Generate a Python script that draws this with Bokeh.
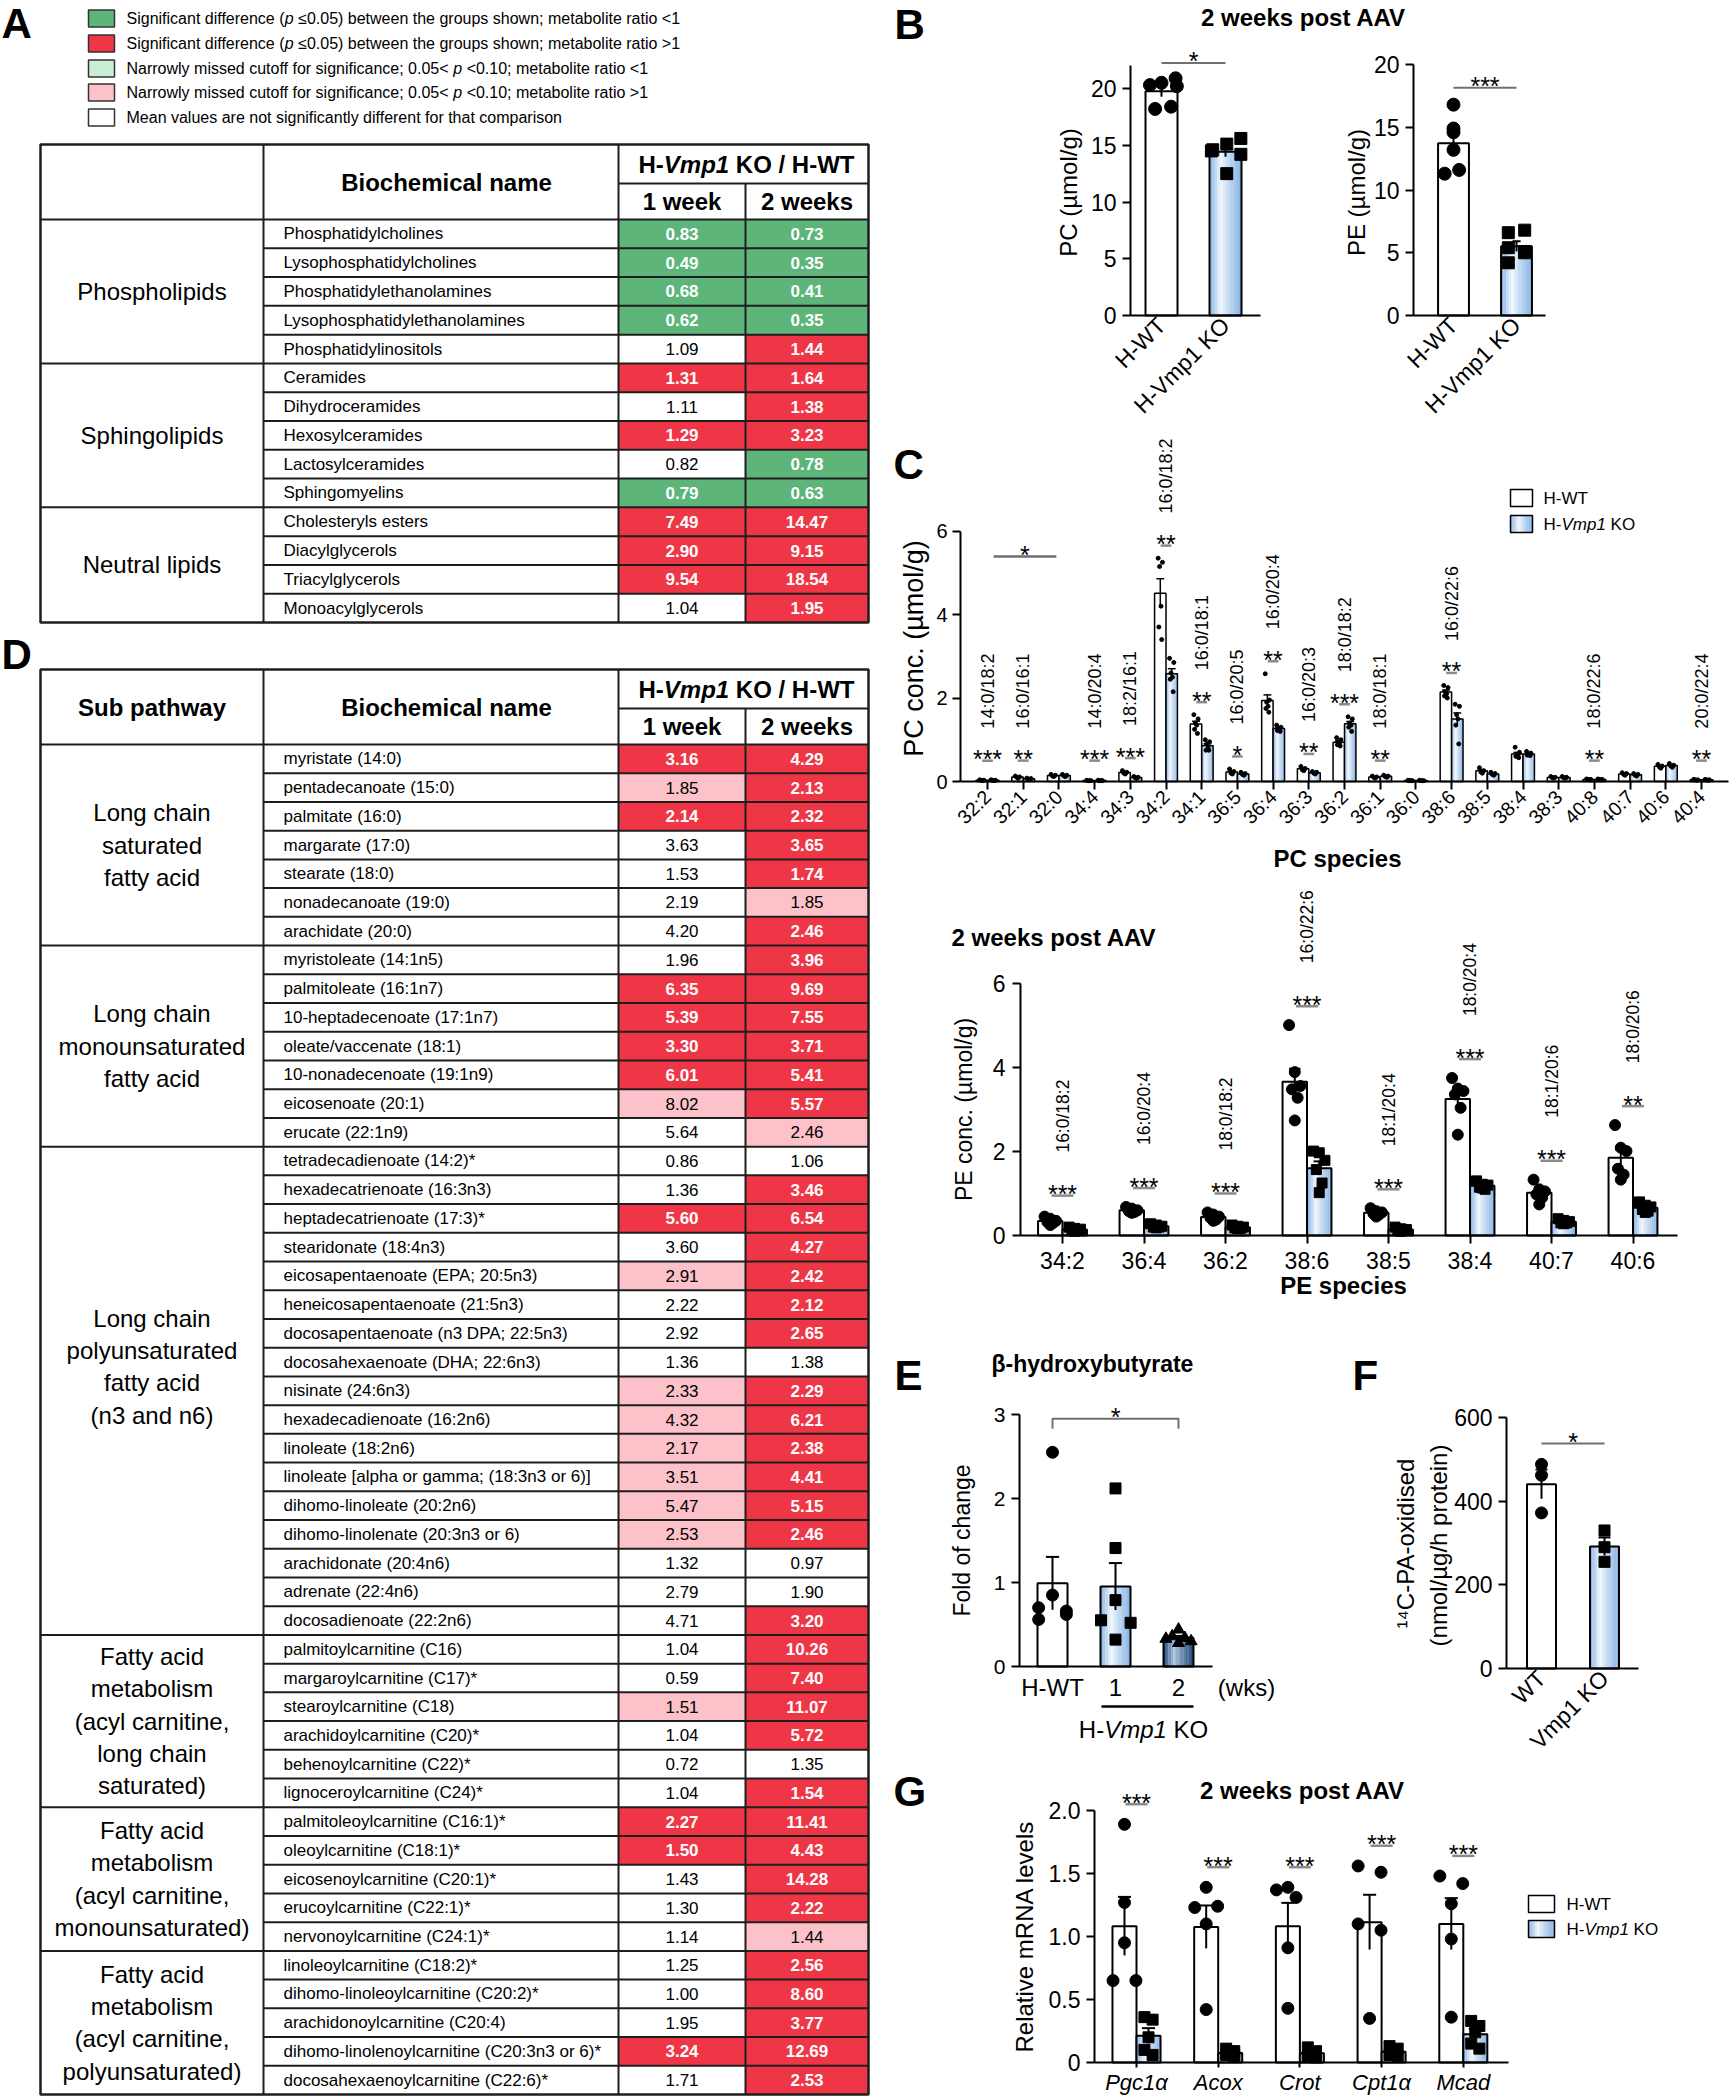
import math
from bokeh.plotting import figure
from bokeh.models import Range1d, FixedTicker, LinearAxis
from bokeh.layouts import row, column
from bokeh.core.properties import value
from bokeh.embed import file_html
from bokeh.resources import INLINE

FONT = "Liberation Sans"

# ======================= DATA =======================
legend_codes = ["G", "R", "g", "r", ""]
legend_texts = [
    ["Significant difference (", "p", " \u22640.05) between the groups shown; metabolite ratio <1"],
    ["Significant difference (", "p", " \u22640.05) between the groups shown; metabolite ratio >1"],
    ["Narrowly missed cutoff for significance; 0.05< ", "p", " <0.10; metabolite ratio <1"],
    ["Narrowly missed cutoff for significance; 0.05< ", "p", " <0.10; metabolite ratio >1"],
    ["Mean values are not significantly different for that comparison"],
]

# ---- Table A ----
a_groups = ["Phospholipids", "Sphingolipids", "Neutral lipids"]
a_sizes = [5, 5, 4]
a_names = ["Phosphatidylcholines", "Lysophosphatidylcholines", "Phosphatidylethanolamines",
           "Lysophosphatidylethanolamines", "Phosphatidylinositols", "Ceramides", "Dihydroceramides",
           "Hexosylceramides", "Lactosylceramides", "Sphingomyelins", "Cholesteryls esters",
           "Diacylglycerols", "Triacylglycerols", "Monoacylglycerols"]
a_wk1 = [0.83, 0.49, 0.68, 0.62, 1.09, 1.31, 1.11, 1.29, 0.82, 0.79, 7.49, 2.90, 9.54, 1.04]
a_wk2 = [0.73, 0.35, 0.41, 0.35, 1.44, 1.64, 1.38, 3.23, 0.78, 0.63, 14.47, 9.15, 18.54, 1.95]
a_sig1 = ["G", "G", "G", "G", "", "R", "", "R", "", "G", "R", "R", "R", ""]
a_sig2 = ["G", "G", "G", "G", "R", "R", "R", "R", "G", "G", "R", "R", "R", "R"]

# ---- Table D ----
d_groups = ["Long chain\nsaturated\nfatty acid",
            "Long chain\nmonounsaturated\nfatty acid",
            "Long chain\npolyunsaturated\nfatty acid\n(n3 and n6)",
            "Fatty acid\nmetabolism\n(acyl carnitine,\nlong chain\nsaturated)",
            "Fatty acid\nmetabolism\n(acyl carnitine,\nmonounsaturated)",
            "Fatty acid\nmetabolism\n(acyl carnitine,\npolyunsaturated)"]
d_sizes = [7, 7, 17, 6, 5, 5]
d_names = [
    "myristate (14:0)", "pentadecanoate (15:0)", "palmitate (16:0)", "margarate (17:0)",
    "stearate (18:0)", "nonadecanoate (19:0)", "arachidate (20:0)",
    "myristoleate (14:1n5)", "palmitoleate (16:1n7)", "10-heptadecenoate (17:1n7)",
    "oleate/vaccenate (18:1)", "10-nonadecenoate (19:1n9)", "eicosenoate (20:1)", "erucate (22:1n9)",
    "tetradecadienoate (14:2)*", "hexadecatrienoate (16:3n3)", "heptadecatrienoate (17:3)*",
    "stearidonate (18:4n3)", "eicosapentaenoate (EPA; 20:5n3)", "heneicosapentaenoate (21:5n3)",
    "docosapentaenoate (n3 DPA; 22:5n3)", "docosahexaenoate (DHA; 22:6n3)", "nisinate (24:6n3)",
    "hexadecadienoate (16:2n6)", "linoleate (18:2n6)", "linoleate [alpha or gamma; (18:3n3 or 6)]",
    "dihomo-linoleate (20:2n6)", "dihomo-linolenate (20:3n3 or 6)", "arachidonate (20:4n6)",
    "adrenate (22:4n6)", "docosadienoate (22:2n6)",
    "palmitoylcarnitine (C16)", "margaroylcarnitine (C17)*", "stearoylcarnitine (C18)",
    "arachidoylcarnitine (C20)*", "behenoylcarnitine (C22)*", "lignoceroylcarnitine (C24)*",
    "palmitoleoylcarnitine (C16:1)*", "oleoylcarnitine (C18:1)*", "eicosenoylcarnitine (C20:1)*",
    "erucoylcarnitine (C22:1)*", "nervonoylcarnitine (C24:1)*",
    "linoleoylcarnitine (C18:2)*", "dihomo-linoleoylcarnitine (C20:2)*", "arachidonoylcarnitine (C20:4)",
    "dihomo-linolenoylcarnitine (C20:3n3 or 6)*", "docosahexaenoylcarnitine (C22:6)*"]
d_wk1 = [3.16, 1.85, 2.14, 3.63, 1.53, 2.19, 4.20,
         1.96, 6.35, 5.39, 3.30, 6.01, 8.02, 5.64,
         0.86, 1.36, 5.60, 3.60, 2.91, 2.22, 2.92, 1.36, 2.33, 4.32, 2.17, 3.51, 5.47, 2.53, 1.32, 2.79, 4.71,
         1.04, 0.59, 1.51, 1.04, 0.72, 1.04,
         2.27, 1.50, 1.43, 1.30, 1.14,
         1.25, 1.00, 1.95, 3.24, 1.71]
d_wk2 = [4.29, 2.13, 2.32, 3.65, 1.74, 1.85, 2.46,
         3.96, 9.69, 7.55, 3.71, 5.41, 5.57, 2.46,
         1.06, 3.46, 6.54, 4.27, 2.42, 2.12, 2.65, 1.38, 2.29, 6.21, 2.38, 4.41, 5.15, 2.46, 0.97, 1.90, 3.20,
         10.26, 7.40, 11.07, 5.72, 1.35, 1.54,
         11.41, 4.43, 14.28, 2.22, 1.44,
         2.56, 8.60, 3.77, 12.69, 2.53]
d_sig1 = ["R", "r", "R", "", "", "", "",
          "", "R", "R", "R", "R", "r", "",
          "", "", "R", "", "r", "", "", "", "r", "r", "r", "r", "r", "r", "", "", "",
          "", "", "r", "", "", "",
          "R", "R", "", "", "",
          "", "", "", "R", ""]
d_sig2 = ["R", "R", "R", "R", "R", "r", "R",
          "R", "R", "R", "R", "R", "R", "r",
          "", "R", "R", "R", "R", "R", "R", "", "R", "R", "R", "R", "R", "R", "", "", "R",
          "R", "R", "R", "R", "", "R",
          "R", "R", "R", "R", "r",
          "R", "R", "R", "R", "R"]

# ---- Panel B (2 weeks post AAV) ----
b_groups = ["H-WT", "H-Vmp1 KO"]
b_pc_wt = [20.3, 20.5, 20.9, 20.2, 18.2, 18.4]
b_pc_ko = [14.5, 15.1, 15.6, 14.2, 12.5, 14.6]
b_pe_wt = [16.8, 14.9, 14.6, 13.2, 11.3, 11.6]
b_pe_ko = [6.6, 6.8, 5.4, 4.2, 5.1, 5.0]

# ---- Panel C (PC species) ----
pc_species = ["32:2", "32:1", "32:0", "34:4", "34:3", "34:2", "34:1", "36:5", "36:4", "36:3", "36:2",
              "36:1", "36:0", "38:6", "38:5", "38:4", "38:3", "40:8", "40:7", "40:6", "40:4"]
pc_wt = [[0.04, 0.03, 0.03, 0.02], [0.13, 0.11, 0.10, 0.08], [0.17, 0.15, 0.13, 0.12],
         [0.03, 0.02, 0.02, 0.02], [0.26, 0.22, 0.20, 0.18], [5.35, 5.25, 5.15, 4.2, 3.7, 3.4],
         [1.6, 1.5, 1.4, 1.35, 1.25, 1.15], [0.30, 0.24, 0.20, 0.18], [2.58, 1.95, 1.9, 1.8, 1.75, 1.66],
         [0.36, 0.31, 0.28, 0.26], [1.05, 1.0, 0.95, 0.92, 0.88, 0.85], [0.13, 0.11, 0.10, 0.08],
         [0.03, 0.02, 0.02, 0.02], [2.3, 2.25, 2.15, 2.1, 2.05, 2.0], [0.33, 0.26, 0.23, 0.20],
         [0.82, 0.70, 0.65, 0.62, 0.60, 0.57], [0.12, 0.10, 0.09, 0.08], [0.06, 0.05, 0.05, 0.04],
         [0.21, 0.19, 0.17, 0.15], [0.41, 0.37, 0.35, 0.32], [0.05, 0.04, 0.04, 0.03]]
pc_ko = [[0.04, 0.03, 0.03, 0.02], [0.08, 0.07, 0.06, 0.05], [0.17, 0.15, 0.13, 0.12],
         [0.03, 0.02, 0.02, 0.02], [0.12, 0.10, 0.09, 0.08], [2.95, 2.85, 2.6, 2.5, 2.45, 2.15],
         [1.0, 0.95, 0.9, 0.8, 0.75, 0.75], [0.22, 0.19, 0.17, 0.15], [1.35, 1.3, 1.28, 1.25, 1.22, 1.2],
         [0.24, 0.22, 0.20, 0.18], [1.55, 1.5, 1.4, 1.35, 1.3, 1.2], [0.15, 0.13, 0.12, 0.10],
         [0.03, 0.02, 0.02, 0.02], [1.85, 1.8, 1.6, 1.5, 1.35, 0.9], [0.22, 0.19, 0.17, 0.15],
         [0.72, 0.68, 0.66, 0.65, 0.63, 0.62], [0.12, 0.10, 0.09, 0.08], [0.06, 0.05, 0.05, 0.04],
         [0.19, 0.17, 0.15, 0.13], [0.43, 0.39, 0.37, 0.34], [0.05, 0.04, 0.04, 0.03]]
pc_stars = ["***", "**", "", "***", "***", "**", "**", "*", "**", "**", "***", "**", "", "**", "", "", "",
            "**", "", "", "**"]
pc_lipid = ["14:0/18:2", "16:0/16:1", "", "14:0/20:4", "18:2/16:1", "16:0/18:2", "16:0/18:1", "16:0/20:5",
            "16:0/20:4", "16:0/20:3", "18:0/18:2", "18:0/18:1", "", "16:0/22:6", "", "", "", "18:0/22:6",
            "", "", "20:0/22:4"]

# ---- PE species ----
pe_species = ["34:2", "36:4", "36:2", "38:6", "38:5", "38:4", "40:7", "40:6"]
pe_wt = [[0.45, 0.40, 0.35, 0.32, 0.30, 0.25], [0.68, 0.64, 0.60, 0.58, 0.56, 0.54],
         [0.55, 0.50, 0.45, 0.42, 0.38, 0.35], [5.01, 3.89, 3.56, 3.48, 3.28, 2.74],
         [0.65, 0.58, 0.55, 0.52, 0.50, 0.45], [3.75, 3.5, 3.44, 3.36, 3.04, 2.4],
         [1.33, 1.10, 1.05, 0.98, 0.90, 0.74], [2.63, 2.09, 2.01, 1.59, 1.45, 1.33]]
pe_ko = [[0.20, 0.17, 0.15, 0.13, 0.12, 0.10], [0.28, 0.25, 0.22, 0.20, 0.20, 0.18],
         [0.25, 0.22, 0.20, 0.18, 0.17, 0.16], [2.01, 1.97, 1.79, 1.57, 1.25, 1.02],
         [0.20, 0.16, 0.14, 0.13, 0.12, 0.10], [1.30, 1.22, 1.20, 1.15, 1.10, 1.13],
         [0.40, 0.36, 0.33, 0.30, 0.30, 0.28], [0.80, 0.72, 0.68, 0.62, 0.58, 0.55]]
pe_stars = ["***", "***", "***", "***", "***", "***", "***", "**"]
pe_lipid = ["16:0/18:2", "16:0/20:4", "18:0/18:2", "16:0/22:6", "18:1/20:4", "18:0/20:4", "18:1/20:6",
            "18:0/20:6"]

# ---- Panel E (beta-hydroxybutyrate, fold of change) ----
e_ticks = ["H-WT", "1", "2"]
e_wt = [2.55, 0.85, 0.70, 0.66, 0.62, 0.56]
e_ko1 = [2.12, 1.41, 0.79, 0.55, 0.52, 0.32]
e_ko2 = [0.44, 0.36, 0.34, 0.33, 0.30, 0.28]

# ---- Panel F (14C-PA oxidised) ----
f_groups = ["WT", "Vmp1 KO"]
f_wt = [488, 462, 372]
f_ko = [330, 290, 255]

# ---- Panel G (relative mRNA) ----
g_genes = ["Pgc1\u03b1", "Acox", "Crot", "Cpt1\u03b1", "Mcad"]
g_wt = [[1.89, 1.27, 0.95, 0.65, 0.65], [1.39, 1.23, 1.24, 1.10, 0.42], [1.37, 1.39, 1.31, 0.91, 0.43],
        [1.56, 1.51, 1.10, 1.05, 0.35], [1.48, 1.42, 1.26, 0.98, 0.36]]
g_ko = [[0.36, 0.34, 0.20, 0.10, 0.06], [0.11, 0.09, 0.07, 0.06, 0.05], [0.12, 0.09, 0.07, 0.05, 0.04],
        [0.13, 0.11, 0.08, 0.06, 0.05], [0.33, 0.29, 0.24, 0.15, 0.11]]

# ======================= HELPERS =======================
_AW = {}
for ch, w in zip(" !\"#$%&'()*+,-./", [278, 278, 355, 556, 556, 889, 667, 191, 333, 333, 389, 584, 278, 333, 278, 278]):
    _AW[ch] = w
for ch in "0123456789":
    _AW[ch] = 556
for ch, w in zip(":;<=>?@", [278, 278, 584, 584, 584, 556, 1015]):
    _AW[ch] = w
for ch, w in zip("ABCDEFGHIJKLMNOPQRSTUVWXYZ", [667, 667, 722, 722, 667, 611, 778, 722, 278, 500, 667, 556, 833,
                                                722, 778, 667, 778, 722, 667, 611, 722, 667, 944, 667, 667, 611]):
    _AW[ch] = w
for ch, w in zip("[\\]^_", [278, 278, 278, 469, 556]):
    _AW[ch] = w
for ch, w in zip("abcdefghijklmnopqrstuvwxyz", [556, 556, 500, 556, 556, 278, 556, 556, 222, 222, 500, 222, 833,
                                                556, 556, 556, 556, 333, 500, 278, 556, 500, 722, 500, 500, 500]):
    _AW[ch] = w
_AW.update({"\u2264": 549, "\u00b5": 556})
_ABW = dict(_AW)
for ch, w in zip("ABCDEFGHIJKLMNOPQRSTUVWXYZ", [722, 722, 722, 722, 667, 611, 778, 722, 278, 556, 722, 611, 833,
                                                722, 778, 667, 778, 722, 667, 611, 722, 667, 944, 667, 667, 611]):
    _ABW[ch] = w
for ch, w in zip("abcdefghijklmnopqrstuvwxyz", [556, 611, 556, 611, 556, 333, 611, 611, 278, 278, 556, 278, 889,
                                                611, 611, 611, 611, 389, 556, 333, 611, 556, 778, 556, 556, 500]):
    _ABW[ch] = w
_ABW.update({":": 333, ";": 333})


def tw(s, size, bold=False):
    t = _ABW if bold else _AW
    return sum(t.get(c, 556) for c in s) * size / 1000.0


def RN(rn):
    return dict(x_range_name=rn, y_range_name=rn) if rn else {}


def T(p, xs, ys, texts, size, align="left", baseline="middle", style="normal", color="black", angle=0.0, rn=None):
    p.text(x=list(xs), y=list(ys), text=list(texts), text_font=value(FONT), text_font_size=f"{size}px",
           text_align=align, text_baseline=baseline, text_font_style=style, text_color=color, angle=angle,
           **RN(rn))


def pieces(p, x_left, y, parts, size, bold=False, ux=1.0, color="black"):
    x = x_left
    for s, it in parts:
        st = " ".join((["bold"] if bold else []) + (["italic"] if it else [])) or "normal"
        lead = len(s) - len(s.lstrip(" "))
        xd = x + tw(" " * lead, size, bold) / ux
        txt = s.strip(" ")
        if txt:
            T(p, [xd], [y], [txt], size, style=st, color=color)
        x += tw(s, size, bold) / ux


class M:
    """pixel <-> data mapping of one chart (page pixel coordinates)."""
    def __init__(self, X0, UX, Y0, UY):
        self.X0, self.UX, self.Y0, self.UY = X0, UX, Y0, UY

    def x(self, X):
        return (X - self.X0) / self.UX

    def y(self, Y):
        return (self.Y0 - Y) / self.UY

    def dx(self, px):
        return px / self.UX

    def dy(self, px):
        return px / self.UY


def _base(w, h, xr, yr, axes):
    kw = dict(width=w, height=h, x_range=Range1d(*xr), y_range=Range1d(*yr), output_backend="svg",
              toolbar_location=None, tools="", title=None, min_border=0, min_border_left=0,
              min_border_right=0, min_border_top=0, min_border_bottom=0)
    if not axes:
        kw.update(x_axis_type=None, y_axis_type=None)
    p = figure(**kw)
    p.outline_line_color = None
    p.background_fill_color = "white"
    p.border_fill_color = "white"
    if "frame_align" in p.properties():
        p.frame_align = False
    if axes:
        p.xgrid.visible = False
        p.ygrid.visible = False
    return p


def chart(XL, XR, YT, YB, m):
    return _base(XR - XL, YB - YT, (m.x(XL), m.x(XR)), (m.y(YB), m.y(YT)), True)


def style_ax(ax, size, tick_out=8, standoff=6, ticks=True, font_style="normal"):
    ax.axis_line_color = "black"
    ax.axis_line_width = 2
    ax.major_tick_line_color = "black" if ticks else None
    ax.major_tick_line_width = 2
    ax.major_tick_out = tick_out if ticks else 0
    ax.major_tick_in = 0
    ax.minor_tick_line_color = None
    ax.major_label_text_font = FONT
    ax.major_label_text_font_size = f"{size}px"
    ax.major_label_text_color = "black"
    ax.major_label_text_font_style = font_style
    ax.major_label_standoff = standoff


def axes(xa, ya, m, XA, XE, ytop, yticks, xticks, xlabels, xsize, ysize, xrot=0.0, xtick_out=8, xticks_on=True,
         xstand=4, ystand=6, xstyle="normal", ylabels=None):
    style_ax(xa, xsize, tick_out=xtick_out, standoff=xstand, ticks=xticks_on, font_style=xstyle)
    style_ax(ya, ysize, standoff=ystand)
    xa.fixed_location = 0
    xa.bounds = (m.x(XA), m.x(XE))
    xa.ticker = FixedTicker(ticks=list(xticks))
    xa.major_label_overrides = {t: s for t, s in zip(xticks, xlabels)}
    if xrot:
        xa.major_label_orientation = xrot
    ya.fixed_location = m.x(XA)
    ya.bounds = (0, ytop)
    ya.ticker = FixedTicker(ticks=list(yticks))
    if ylabels:
        ya.major_label_overrides = {t: s for t, s in zip(yticks, ylabels)}


def _hex(c):
    return tuple(int(c[i:i + 2], 16) for i in (1, 3, 5))


def _mix(a, b, t):
    A, B = _hex(a), _hex(b)
    return "#%02x%02x%02x" % tuple(int(round(A[k] + (B[k] - A[k]) * t)) for k in range(3))


LIGHT = ("#86b3e4", "#f5f9fe")
DARK = ("#214c7a", "#b4cae2")


def grad_bar(p, xs, tops, width, bottoms=None, grad=LIGHT, peak=0.35, n=12, lw=2.0, rn=None):
    if bottoms is None:
        bottoms = [0] * len(xs)
    edge, light = grad
    for k in range(n):
        t = (k + 0.5) / n
        d = (peak - t) / peak if t < peak else (t - peak) / (1 - peak)
        col = _mix(light, edge, min(1.0, d) ** 0.85)
        p.vbar(x=[x - width / 2 + width * t for x in xs], top=tops, bottom=bottoms, width=width / n * 1.08,
               fill_color=col, line_color=None, **RN(rn))
    p.vbar(x=xs, top=tops, bottom=bottoms, width=width, fill_color=None, line_color="black", line_width=lw,
           **RN(rn))


def mean(v):
    return sum(v) / len(v)


def sem(v):
    m = mean(v)
    return math.sqrt(sum((a - m) ** 2 for a in v) / (len(v) - 1)) / math.sqrt(len(v))


def group_bars(p, xs, pts, width, marker, msize, offs, grad=None, lw=2.0, cap=0.0, elw=2.0, rn=None):
    tops = [mean(v) for v in pts]
    errs = [sem(v) for v in pts]
    if grad:
        grad_bar(p, xs, tops, width, grad=grad, lw=lw, rn=rn)
    else:
        p.vbar(x=xs, top=tops, width=width, fill_color="white", line_color="black", line_width=lw, **RN(rn))
    px, py = [], []
    for x, v, o in zip(xs, pts, offs):
        for j, a in enumerate(v):
            px.append(x + o[j % len(o)])
            py.append(a)
    p.segment(x0=xs, y0=[t - e for t, e in zip(tops, errs)], x1=xs, y1=[t + e for t, e in zip(tops, errs)],
              line_color="black", line_width=elw, **RN(rn))
    if cap:
        p.segment(x0=[x - cap / 2 for x in xs], y0=[t + e for t, e in zip(tops, errs)],
                  x1=[x + cap / 2 for x in xs], y1=[t + e for t, e in zip(tops, errs)],
                  line_color="black", line_width=elw, **RN(rn))
    p.scatter(px, py, marker=marker, size=msize, fill_color="black", line_color="black", **RN(rn))


SIGC = "#707070"
DASHC = "#8a8a8a"
VMP = [("H-", False), ("Vmp1", True), (" KO", False)]

# ======================= LEFT COLUMN (legend + tables A, D) =======================
CELL = {"G": "#5db57a", "R": "#ee3646", "g": "#c8efd3", "r": "#fcc1c9", "": "white"}
COLX = [40, 263, 618, 745, 868]
TOTAL_H = 2096

Lf = _base(880, TOTAL_H, (0, 880), (TOTAL_H, 0), False)
T(Lf, [1], [23], ["A"], 42, style="bold")
T(Lf, [1], [654], ["D"], 42, style="bold")

leg_y = [18, 43, 68, 92, 117]
Lf.quad(left=[88] * 5, right=[114] * 5, top=[y - 8.5 for y in leg_y], bottom=[y + 8.5 for y in leg_y],
        fill_color=[CELL[c] for c in legend_codes], line_color="#333333", line_width=1.5)
for y, parts in zip(leg_y, legend_texts):
    pieces(Lf, 126, y, [(s, i % 2 == 1) for i, s in enumerate(parts)], 16)


def draw_table(p, top, split, hbot, bottom, groups, sizes, names, w1, w2, c1, c2, first_hdr, goff):
    n = len(names)
    rh = (bottom - hbot) / n
    yb = [hbot + rh * i for i in range(n + 1)]
    yc = [(yb[i] + yb[i + 1]) / 2 for i in range(n)]
    for k, (vals, codes) in enumerate(((w1, c1), (w2, c2))):
        l, r = COLX[2 + k], COLX[3 + k]
        idx = [i for i in range(n) if codes[i] != ""]
        p.quad(left=[l] * len(idx), right=[r] * len(idx), top=[yb[i] for i in idx],
               bottom=[yb[i + 1] for i in idx], fill_color=[CELL[codes[i]] for i in idx], line_color=None)
        strong = [i for i in range(n) if codes[i] in ("G", "R")]
        weak = [i for i in range(n) if codes[i] not in ("G", "R")]
        xc = (l + r) / 2
        T(p, [xc] * len(strong), [yc[i] for i in strong], ["%.2f" % vals[i] for i in strong], 17,
          align="center", style="bold", color="white")
        T(p, [xc] * len(weak), [yc[i] for i in weak], ["%.2f" % vals[i] for i in weak], 17, align="center")
    T(p, [283] * n, yc, names, 17)
    gy = []
    start = 0
    for s, o in zip(sizes, goff):
        gy.append((yb[start] + yb[start + s]) / 2 + o)
        start += s
    T(p, [151.5] * len(groups), gy, groups, 24, align="center")
    hy = (top + hbot) / 2
    if first_hdr:
        T(p, [151.5], [hy], [first_hdr], 24, align="center", style="bold")
    T(p, [446], [hy], ["Biochemical name"], 24, align="center", style="bold")
    parts = [("H-", False), ("Vmp1", True), (" KO / H-WT", False)]
    wtot = sum(tw(s, 24, True) for s, _ in parts)
    pieces(p, 746 - wtot / 2, (top + split) / 2, parts, 24, bold=True)
    T(p, [681.5, 806.5], [(split + hbot) / 2] * 2, ["1 week", "2 weeks"], 24, align="center", style="bold")
    x0, y0, x1, y1 = [], [], [], []

    def seg(a, b, c, d):
        x0.append(a); y0.append(b); x1.append(c); y1.append(d)

    bset = set()
    acc = 0
    for s in sizes[:-1]:
        acc += s
        bset.add(acc)
    for i in range(1, n):
        seg(COLX[0] if i in bset else COLX[1], yb[i], COLX[4], yb[i])
    seg(COLX[2], split, COLX[4], split)
    seg(COLX[0], hbot, COLX[4], hbot)
    seg(COLX[1], top, COLX[1], bottom)
    seg(COLX[2], top, COLX[2], bottom)
    seg(COLX[3], split, COLX[3], bottom)
    p.segment(x0=x0, y0=y0, x1=x1, y1=y1, line_color="#1e1e1e", line_width=2)
    p.quad(left=[COLX[0]], right=[COLX[4]], top=[top], bottom=[bottom], fill_color=None,
           line_color="#1e1e1e", line_width=2.5)


draw_table(Lf, 144, 183, 219, 622, a_groups, a_sizes, a_names, a_wk1, a_wk2, a_sig1, a_sig2, "", [0, 0, 0])
draw_table(Lf, 669, 708, 744, 2094, d_groups, d_sizes, d_names, d_wk1, d_wk2, d_sig1, d_sig2, "Sub pathway",
           [0, 0, -24, 0, 0, 0])

# ======================= PANEL B (one figure, two charts) =======================
mB1 = M(1161, 64.0, 315, 11.35)   # PC chart (default ranges)
mB2 = M(1453, 63.0, 315, 12.55)   # PE chart (extra ranges "pe")
fb = chart(880, 1731, 0, 430, mB1)
fb.extra_x_ranges = {"pe": Range1d(mB2.x(880), mB2.x(1731))}
fb.extra_y_ranges = {"pe": Range1d(mB2.y(430), mB2.y(0))}
xa1, ya1 = fb.xaxis[0], fb.yaxis[0]
xa2 = LinearAxis(x_range_name="pe", y_range_name="pe")
ya2 = LinearAxis(x_range_name="pe", y_range_name="pe")
fb.add_layout(xa2, "below")
fb.add_layout(ya2, "left")


def b_part(p, m, xa, ya, XA, XE, wt, ko, ytop, stars, ylab, lab_X, wt_off, ko_off, width, rn):
    axes(xa, ya, m, XA, XE, ytop, [0, 5, 10, 15, 20], [0, 1], b_groups, 23, 23, xrot=math.pi / 4,
         xticks_on=False, xstand=6, ystand=6)
    group_bars(p, [0], [wt], width, "circle", 13, [wt_off], cap=0.13, rn=rn)
    group_bars(p, [1], [ko], width, "square", 12, [ko_off], grad=LIGHT, cap=0.13, rn=rn)
    ys = max(wt + ko) + 1.35
    p.segment(x0=[0], y0=[ys], x1=[1], y1=[ys], line_color=SIGC, line_width=2, **RN(rn))
    T(p, [0.5], [ys + m.dy(1.5)], [stars], 25, align="center", baseline="alphabetic", rn=rn)
    T(p, [m.x(lab_X)], [m.y(192)], [ylab], 24, align="center", angle=math.pi / 2, rn=rn)


b_part(fb, mB1, xa1, ya1, 1130, 1260, b_pc_wt, b_pc_ko, 22, "*", "PC (\u00b5mol/g)", 1068,
       [-0.18, 0.0, 0.22, 0.24, -0.1, 0.15], [-0.22, 0.02, 0.24, 0.24, 0.02, -0.2], 0.5, None)
b_part(fb, mB2, xa2, ya2, 1413, 1545, b_pe_wt, b_pe_ko, 20, "***", "PE (\u00b5mol/g)", 1356,
       [0.0, 0.0, 0.0, 0.0, -0.14, 0.09], [-0.13, 0.13, -0.13, -0.13, 0.13, 0.13], 0.49, "pe")
T(fb, [mB1.x(894)], [mB1.y(24)], ["B"], 42, style="bold")
T(fb, [mB1.x(1303)], [mB1.y(17)], ["2 weeks post AAV"], 24, align="center", style="bold")

# ======================= PANEL C (PC species) =======================
mC = M(987, 35.7, 781, 41.75)
fc = chart(880, 1731, 430, 880, mC)
n_pc = len(pc_species)
axes(fc.xaxis[0], fc.yaxis[0], mC, 960, 1728, 6, [0, 2, 4, 6], list(range(n_pc)), pc_species, 19.5, 20,
     xrot=math.pi / 4, xtick_out=8, xstand=4, ystand=5)
c_offs = [[-0.06, 0.06, -0.02, 0.02, -0.04, 0.04]] * n_pc
group_bars(fc, [i - 0.16 for i in range(n_pc)], pc_wt, 0.32, "circle", 4, c_offs, lw=1.5, cap=0.22, elw=1.5)
group_bars(fc, [i + 0.16 for i in range(n_pc)], pc_ko, 0.32, "circle", 4, c_offs, grad=LIGHT, lw=1.5,
           cap=0.22, elw=1.5)
c_idx = [i for i in range(n_pc) if pc_stars[i]]
c_dash = [max(0.5, max(pc_wt[i] + pc_ko[i]) + 0.3) for i in c_idx]
fc.segment(x0=[i - 0.15 for i in c_idx], y0=c_dash, x1=[i + 0.15 for i in c_idx], y1=c_dash,
           line_color=DASHC, line_width=2.5)
T(fc, c_idx, [d + mC.dy(1.5) for d in c_dash], [pc_stars[i] for i in c_idx], 25, align="center",
  baseline="alphabetic")
T(fc, c_idx, [d + mC.dy(32) for d in c_dash], [pc_lipid[i] for i in c_idx], 18, align="left",
  angle=math.pi / 2)
fc.segment(x0=[0.17], y0=[5.39], x1=[1.93], y1=[5.39], line_color=SIGC, line_width=2.5)
T(fc, [1.05], [5.39 + mC.dy(1.5)], ["*"], 25, align="center", baseline="alphabetic")
# legend
fc.vbar(x=[mC.x(1521)], bottom=[mC.y(506)], top=[mC.y(489)], width=mC.dx(22), fill_color="white",
        line_color="black", line_width=1.5)
grad_bar(fc, [mC.x(1521)], [mC.y(515)], mC.dx(22), bottoms=[mC.y(532)], lw=1.5)
T(fc, [mC.x(1543)], [mC.y(497.5)], ["H-WT"], 17)
pieces(fc, mC.x(1543), mC.y(523.5), VMP, 17, ux=mC.UX)
T(fc, [mC.x(913)], [mC.y(648)], ["PC conc. (\u00b5mol/g)"], 27, align="center", angle=math.pi / 2)
T(fc, [mC.x(1337)], [mC.y(858)], ["PC species"], 24, align="center", style="bold")
T(fc, [mC.x(893)], [mC.y(464)], ["C"], 42, style="bold")

# ======================= PE species =======================
mP = M(1062, 81.5, 1235, 42.0)
fpe = chart(880, 1731, 880, 1320, mP)
n_pe = len(pe_species)
axes(fpe.xaxis[0], fpe.yaxis[0], mP, 1020, 1677, 6, [0, 2, 4, 6], list(range(n_pe)), pe_species, 23, 23,
     xtick_out=8, xstand=4, ystand=7)
p_offs = [[-0.07, 0.0, 0.07, -0.035, 0.035, 0.0]] * n_pe
group_bars(fpe, [i - 0.15 for i in range(n_pe)], pe_wt, 0.3, "circle", 11, p_offs, lw=2, cap=0.14)
group_bars(fpe, [i + 0.15 for i in range(n_pe)], pe_ko, 0.3, "square", 10, p_offs, grad=LIGHT, lw=2, cap=0.14)
p_dash = [max(0.95, max(pe_wt[i] + pe_ko[i]) + 0.45) for i in range(n_pe)]
fpe.segment(x0=[i - 0.135 for i in range(n_pe)], y0=p_dash, x1=[i + 0.135 for i in range(n_pe)], y1=p_dash,
            line_color=DASHC, line_width=2.5)
T(fpe, list(range(n_pe)), [d + mP.dy(1.5) for d in p_dash], pe_stars, 25, align="center", baseline="alphabetic")
T(fpe, list(range(n_pe)), [d + mP.dy(43) for d in p_dash], pe_lipid, 17.5, align="left", angle=math.pi / 2)
T(fpe, [mP.x(951)], [mP.y(937)], ["2 weeks post AAV"], 24, style="bold")
T(fpe, [mP.x(963)], [mP.y(1109)], ["PE conc. (\u00b5mol/g)"], 23, align="center", angle=math.pi / 2)
T(fpe, [mP.x(1343)], [mP.y(1285)], ["PE species"], 24, align="center", style="bold")

# ======================= PANEL E =======================
mE = M(1052, 63.0, 1666, 84.0)
fe = chart(880, 1300, 1320, 1765, mE)
axes(fe.xaxis[0], fe.yaxis[0], mE, 1019, 1212, 3, [0, 1, 2, 3], [0, 1, 2], e_ticks, 24, 21, xticks_on=False,
     xstand=7, ystand=6)
group_bars(fe, [0], [e_wt], 0.476, "circle", 12, [[0, 0, -0.22, 0.22, 0.22, -0.22]], cap=0.21)
group_bars(fe, [1], [e_ko1], 0.476, "square", 11, [[0, 0, 0, -0.23, 0.24, 0]], grad=LIGHT, cap=0.21)
group_bars(fe, [2], [e_ko2], 0.476, "triangle", 12, [[0, -0.1, 0.1, -0.2, 0.2, 0.0]], grad=DARK, cap=0.21)
eb = max(e_wt + e_ko1 + e_ko2) + 0.4
fe.multi_line(xs=[[0, 0, 2, 2]], ys=[[eb - 0.12, eb, eb, eb - 0.12]], line_color=SIGC, line_width=2)
T(fe, [1], [eb + mE.dy(1.5)], ["*"], 25, align="center", baseline="alphabetic")
T(fe, [mE.x(894)], [mE.y(1375)], ["E"], 42, style="bold")
T(fe, [mE.x(991)], [mE.y(1363)], ["\u03b2-hydroxybutyrate"], 23, style="bold")
T(fe, [mE.x(961)], [mE.y(1540)], ["Fold of change"], 23, align="center", angle=math.pi / 2)
T(fe, [mE.x(1246)], [mE.y(1687)], ["(wks)"], 24, align="center")
fe.segment(x0=[mE.x(1101)], y0=[mE.y(1706)], x1=[mE.x(1193)], y1=[mE.y(1706)], line_color="black",
           line_width=2.5)
ew = sum(tw(s, 24) for s, _ in VMP)
pieces(fe, mE.x(1143 - ew / 2), mE.y(1729), VMP, 24, ux=mE.UX)

# ======================= PANEL F =======================
mF = M(1541, 63.0, 1668, 0.4183)
ff = chart(1300, 1731, 1320, 1765, mF)
axes(ff.xaxis[0], ff.yaxis[0], mF, 1506, 1638, 600, [0, 200, 400, 600], [0, 1], f_groups, 23, 23,
     xrot=math.pi / 4, xticks_on=False, xstand=6, ystand=6)
group_bars(ff, [0], [f_wt], 0.46, "circle", 12, [[0]], cap=0.19)
group_bars(ff, [1], [f_ko], 0.46, "square", 11, [[0]], grad=LIGHT, cap=0.19)
fbar = max(f_wt + f_ko) + 50
ff.segment(x0=[0], y0=[fbar], x1=[1], y1=[fbar], line_color=SIGC, line_width=2)
T(ff, [0.5], [fbar + mF.dy(1.5)], ["*"], 25, align="center", baseline="alphabetic")
T(ff, [mF.x(1352)], [mF.y(1375)], ["F"], 42, style="bold")
T(ff, [mF.x(1405)], [mF.y(1543)], ["\u00b9\u2074C-PA-oxidised"], 24, align="center", angle=math.pi / 2)
T(ff, [mF.x(1438)], [mF.y(1545)], ["(nmol/\u00b5g/h protein)"], 24, align="center", angle=math.pi / 2)

# ======================= PANEL G =======================
mG = M(1136, 81.7, 2062, 126.0)
fg = chart(880, 1731, 1765, TOTAL_H, mG)
n_g = len(g_genes)
axes(fg.xaxis[0], fg.yaxis[0], mG, 1094, 1508, 2, [0, 0.5, 1, 1.5, 2], list(range(n_g)), g_genes, 22, 23,
     xtick_out=5, xstand=2, ystand=6, xstyle="italic", ylabels=["0", "0.5", "1.0", "1.5", "2.0"])
g_wt_off = [[0, 0, 0, -0.14, 0.14], [0, -0.14, 0.14, 0, 0], [-0.14, 0, 0.1, 0, 0], [-0.14, 0.14, -0.14, 0.14, 0],
            [-0.14, 0.14, 0, 0, 0]]
g_ko_off = [[-0.05, 0.05, 0, -0.05, 0.05]] * n_g
group_bars(fg, [i - 0.147 for i in range(n_g)], g_wt, 0.294, "circle", 12, g_wt_off, cap=0.16)
group_bars(fg, [i + 0.147 for i in range(n_g)], g_ko, 0.294, "square", 11, g_ko_off, grad=LIGHT, cap=0.16)
g_dash = [max(g_wt[i] + g_ko[i]) + 0.16 for i in range(n_g)]
fg.segment(x0=[i - 0.135 for i in range(n_g)], y0=g_dash, x1=[i + 0.135 for i in range(n_g)], y1=g_dash,
           line_color=DASHC, line_width=2.5)
T(fg, list(range(n_g)), [d + mG.dy(1.5) for d in g_dash], ["***"] * n_g, 25, align="center",
  baseline="alphabetic")
T(fg, [mG.x(1302)], [mG.y(1790)], ["2 weeks post AAV"], 24, align="center", style="bold")
fg.vbar(x=[mG.x(1541)], bottom=[mG.y(1912)], top=[mG.y(1895)], width=mG.dx(26), fill_color="white",
        line_color="black", line_width=1.5)
grad_bar(fg, [mG.x(1541)], [mG.y(1920)], mG.dx(26), bottoms=[mG.y(1937)], lw=1.5)
T(fg, [mG.x(1566)], [mG.y(1903.5)], ["H-WT"], 17)
pieces(fg, mG.x(1566), mG.y(1928.5), VMP, 17, ux=mG.UX)
T(fg, [mG.x(893)], [mG.y(1791)], ["G"], 42, style="bold")
T(fg, [mG.x(1024)], [mG.y(1936)], ["Relative mRNA levels"], 24, align="center", angle=math.pi / 2)

# ======================= LAYOUT =======================
right = column(fb, fc, fpe, row(fe, ff), fg)
layout = row(Lf, right)
open("out.html", "w").write(file_html(layout, INLINE))
